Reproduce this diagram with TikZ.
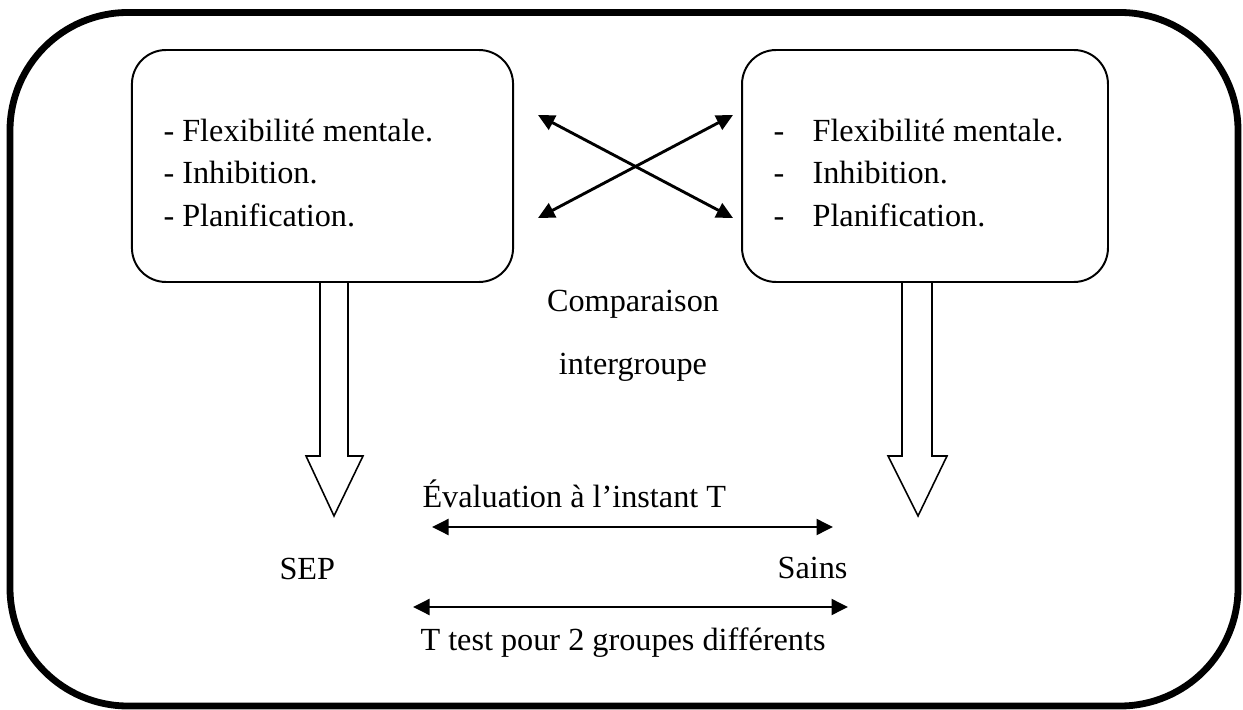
\documentclass[tikz,border=0pt]{standalone}
\usepackage{fontspec}
\setmainfont{Liberation Serif}
\usetikzlibrary{calc,arrows.meta}

\begin{document}
\begin{tikzpicture}[x=0.3815pt,y=-0.3815pt,
  groupbox/.style={draw,line width=0.75pt,rounded corners=13pt,minimum height=88.5pt,inner sep=0pt},
  listtext/.style={align=left,inner sep=0pt,anchor=west,font=\fontsize{12.3}{16.2}\selectfont},
  plaintext/.style={inner sep=0pt,font=\fontsize{12.3}{14}\selectfont},
  linkarrow/.style={line width=1.1pt,{Triangle[length=6.3pt,width=6pt]}-{Triangle[length=6.3pt,width=6pt]}},
  blockarrow/.style={line width=0.6pt,line join=miter}]
  \useasboundingbox (0,0) rectangle (1243,710);
  % outer frame
  \draw[line width=2.6pt,rounded corners=45pt] (10,12.5) rectangle (1238,706);
  % the two groups
  \node[groupbox,minimum width=145.4pt] (sepbox) at (322.5,166) {};
  \node[groupbox,minimum width=139.6pt] (sainsbox) at (925,166) {};
  \node[listtext] (seplist) at (163,173)
    {- Flexibilité mentale.\\- Inhibition.\\- Planification.};
  \node[listtext] (sainslist) at (773,173)
    {\makebox[14.9pt][l]{-}Flexibilité mentale.\\\makebox[14.9pt][l]{-}Inhibition.\\\makebox[14.9pt][l]{-}Planification.};
  % crossed comparison
  \coordinate (xtl) at (538,115);
  \coordinate (xtr) at (733,115);
  \coordinate (xbl) at (538,218);
  \coordinate (xbr) at (733,218);
  \draw[linkarrow] (xtl) -- (xbr);
  \draw[linkarrow] (xbl) -- (xtr);
  \node[plaintext,align=center,font=\fontsize{12.3}{24}\selectfont] (compar) at (633,336)
    {Comparaison\\intergroupe};
  % block arrows down to the groups
  \draw[blockarrow] ($(sepbox.south)+(-2.5,0)$) -- ++(0,173) -- ++(-14,0)
    -- ++(28,60) -- ++(29,-60) -- ++(-15,0) -- ++(0,-173);
  \draw[blockarrow] ($(sainsbox.south)+(-23,0)$) -- ++(0,173) -- ++(-14,0)
    -- ++(30,60) -- ++(29,-60) -- ++(-15,0) -- ++(0,-173);
  \node[plaintext,anchor=base west] (sep) at (279,579) {SEP};
  \node[plaintext,anchor=base east] (sains) at (848,578) {Sains};
  % evaluation and test
  \node[plaintext,anchor=base west] (evallabel) at (422,507) {Évaluation à l’instant T};
  \coordinate (evalL) at (432,527);
  \coordinate (evalR) at (833,527);
  \draw[linkarrow] (evalL) -- (evalR);
  \coordinate (testL) at (413,607);
  \coordinate (testR) at (848,607);
  \draw[linkarrow] (testL) -- (testR);
  \node[plaintext,anchor=base] (testlabel) at (623,650) {T test pour 2 groupes différents};
\end{tikzpicture}
\end{document}
